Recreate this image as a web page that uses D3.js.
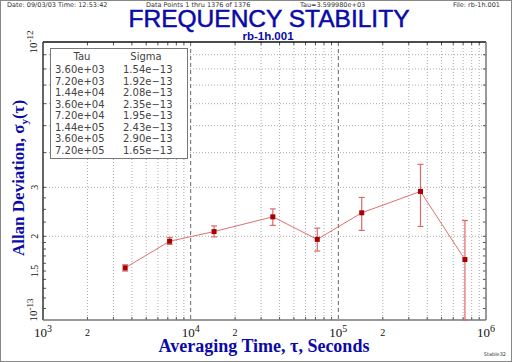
<!DOCTYPE html>
<html>
<head>
<meta charset="utf-8">
<script src="https://cdn.jsdelivr.net/npm/d3@7"></script>
<style>
  body { margin: 0; background: #fff; }
  svg { display: block; }
</style>
</head>
<body>
<svg id="chart" width="512" height="362"></svg>
<script>
// data
const tau = [3600, 7200, 14400, 36000, 72000, 144000, 360000, 720000];
const sigma = [1.54e-13, 1.92e-13, 2.08e-13, 2.35e-13, 1.95e-13, 2.43e-13, 2.90e-13, 1.65e-13];
const errLo = [1.50e-13, 1.87e-13, 1.99e-13, 2.19e-13, 1.77e-13, 2.10e-13, 2.17e-13, 1.00e-13];
const errHi = [1.58e-13, 1.98e-13, 2.18e-13, 2.51e-13, 2.14e-13, 2.76e-13, 3.63e-13, 2.28e-13];
const tauText = ['3.60e+03', '7.20e+03', '1.44e+04', '3.60e+04', '7.20e+04', '1.44e+05', '3.60e+05', '7.20e+05'];
const sigmaText = ['1.54e-13', '1.92e-13', '2.08e-13', '2.35e-13', '1.95e-13', '2.43e-13', '2.90e-13', '1.65e-13'];
const xDecades = [1e3, 1e4, 1e5, 1e6];
const yMinorLabels = [1.5e-13, 2e-13, 3e-13];

const width = 512, height = 362;
const margin = {top: 42, right: 26, bottom: 42, left: 43};
const blue = '#0a0aa8';

const svg = d3.select('#chart');
svg.append('rect').attr('x', 0.5).attr('y', 0.5).attr('width', width - 1).attr('height', height - 1)
    .attr('fill', '#fff').attr('stroke', '#888');

const x = d3.scaleLog().domain([1e3, 1e6]).range([margin.left, width - margin.right]);
const y = d3.scaleLog().domain([1e-13, 1e-12]).range([height - margin.bottom, margin.top]);
const [x0, x1] = x.range();
const [y0, y1] = y.range();

// tick positions
const xMinor = [];
[1e3, 1e4, 1e5].forEach(d => { for (let k = 2; k <= 9; k++) xMinor.push(d * k); });
const yGrid = [];
for (let k = 2; k <= 9; k++) yGrid.push(k * 1e-13);
const yTicks = [];
for (let k = 11; k <= 19; k++) yTicks.push(k * 1e-14);
[2.25e-13, 2.5e-13, 2.75e-13].forEach(v => yTicks.push(v));

// grid
const grid = svg.append('g');
grid.selectAll('.gx').data(xMinor).enter().append('line')
    .attr('x1', d => x(d)).attr('x2', d => x(d)).attr('y1', y1).attr('y2', y0)
    .attr('stroke', '#aaa').attr('stroke-dasharray', '1,2');
grid.selectAll('.gy').data(yGrid).enter().append('line')
    .attr('x1', x0).attr('x2', x1).attr('y1', d => y(d)).attr('y2', d => y(d))
    .attr('stroke', '#aaa').attr('stroke-dasharray', '1,2');
grid.selectAll('.gd').data([1e4, 1e5]).enter().append('line')
    .attr('x1', d => x(d)).attr('x2', d => x(d)).attr('y1', y1).attr('y2', y0)
    .attr('stroke', '#666').attr('stroke-dasharray', '4,3');

// inner ticks on all four sides
const ticks = svg.append('g').attr('stroke', '#555');
ticks.selectAll('.tb').data(xMinor).enter().append('line')
    .attr('x1', d => x(d)).attr('x2', d => x(d)).attr('y1', y0).attr('y2', y0 - 3);
ticks.selectAll('.tt').data(xMinor).enter().append('line')
    .attr('x1', d => x(d)).attr('x2', d => x(d)).attr('y1', y1).attr('y2', y1 + 3);
ticks.selectAll('.tl').data(yGrid.concat(yTicks)).enter().append('line')
    .attr('x1', x0).attr('x2', x0 + 3).attr('y1', d => y(d)).attr('y2', d => y(d));
ticks.selectAll('.tr').data(yGrid.concat(yTicks)).enter().append('line')
    .attr('x1', x1).attr('x2', x1 - 3).attr('y1', d => y(d)).attr('y2', d => y(d));

// frame
svg.append('line').attr('x1', x0).attr('x2', x1).attr('y1', y1).attr('y2', y1).attr('stroke', '#111').attr('stroke-width', 1.5);
svg.append('line').attr('x1', x0).attr('x2', x0).attr('y1', y1).attr('y2', y0).attr('stroke', '#333').attr('stroke-width', 1.5);
svg.append('line').attr('x1', x1).attr('x2', x1).attr('y1', y1).attr('y2', y0).attr('stroke', '#777').attr('stroke-width', 1.5);
svg.append('line').attr('x1', x0).attr('x2', x1).attr('y1', y0).attr('y2', y0).attr('stroke', '#777').attr('stroke-width', 1.5);

// x tick labels
const serif = 'Liberation Serif, Times New Roman, serif';
const xl = svg.append('g').attr('font-family', serif).attr('fill', '#111');
xDecades.forEach(d => {
    const t = xl.append('text').attr('x', x(d)).attr('y', y0 + 17).attr('text-anchor', 'middle').attr('font-size', 13);
    t.append('tspan').text('10');
    t.append('tspan').attr('dy', -5).attr('font-size', 10).text(Math.round(Math.log10(d)));
});
[2e3, 2e4, 2e5].forEach(d => {
    xl.append('text').attr('x', x(d)).attr('y', y0 + 16).attr('text-anchor', 'middle').attr('font-size', 10).text('2');
});

// y tick labels (rotated)
const yl = svg.append('g').attr('font-family', serif).attr('fill', '#111');
[[1e-12, '-12', 0], [1e-13, '-13', -10]].forEach(([v, e, off]) => {
    const t = yl.append('text').attr('transform', `translate(37,${y(v) + off}) rotate(-90)`)
        .attr('text-anchor', 'middle').attr('font-size', 11);
    t.append('tspan').text('10');
    t.append('tspan').attr('dy', -4).attr('font-size', 9).text(e);
});
yMinorLabels.forEach(v => {
    yl.append('text').attr('transform', `translate(38,${y(v)}) rotate(-90)`)
        .attr('text-anchor', 'middle').attr('font-size', 10).text(d3.format('.2~f')(v * 1e13));
});

// data
const idx = d3.range(tau.length);
const line = d3.line().x(i => x(tau[i])).y(i => y(sigma[i]));
svg.append('path').attr('d', line(idx)).attr('fill', 'none').attr('stroke', '#e07070').attr('stroke-width', 1);
const eb = svg.append('g').attr('stroke', '#d86a6a').attr('stroke-width', 1.2);
eb.selectAll('.v').data(idx).enter().append('line')
    .attr('x1', i => x(tau[i])).attr('x2', i => x(tau[i]))
    .attr('y1', i => y(errLo[i])).attr('y2', i => y(errHi[i]));
eb.selectAll('.ch').data(idx).enter().append('line')
    .attr('x1', i => x(tau[i]) - 3).attr('x2', i => x(tau[i]) + 3)
    .attr('y1', i => y(errHi[i])).attr('y2', i => y(errHi[i]));
eb.selectAll('.cl').data(idx).enter().append('line')
    .attr('x1', i => x(tau[i]) - 3).attr('x2', i => x(tau[i]) + 3)
    .attr('y1', i => y(errLo[i])).attr('y2', i => y(errLo[i]));
svg.selectAll('.pt').data(idx).enter().append('rect')
    .attr('x', i => x(tau[i]) - 2.5).attr('y', i => y(sigma[i]) - 2.5)
    .attr('width', 5).attr('height', 5).attr('fill', '#a80000');

// legend table
const lg = svg.append('g').attr('font-family', 'DejaVu Sans, sans-serif').attr('font-size', 10).attr('fill', '#444');
lg.append('rect').attr('x', 50.5).attr('y', 48.5).attr('width', 137).attr('height', 110)
    .attr('fill', '#fff').attr('stroke', '#777');
lg.append('text').attr('x', 82).attr('y', 60).attr('text-anchor', 'middle').text('Tau');
lg.append('text').attr('x', 146).attr('y', 60).attr('text-anchor', 'middle').text('Sigma');
tauText.forEach((s, i) => {
    lg.append('text').attr('x', 55).attr('y', 73 + i * 11.5).text(s.replace('-', '\u2212'));
    lg.append('text').attr('x', 123).attr('y', 73 + i * 11.5).text(sigmaText[i].replace('-', '\u2212'));
});

// titles
svg.append('text').attr('x', 269).attr('y', 27).attr('text-anchor', 'middle')
    .attr('font-family', 'Liberation Sans, Arial, sans-serif').attr('font-size', 24)
    .attr('textLength', 281).attr('lengthAdjust', 'spacingAndGlyphs')
    .attr('fill', blue).attr('stroke', blue).attr('stroke-width', 0.5).text('FREQUENCY STABILITY');
svg.append('text').attr('x', 268).attr('y', 39.5).attr('text-anchor', 'middle')
    .attr('font-family', 'Liberation Sans, Arial, sans-serif').attr('font-size', 11.5).attr('font-weight', 'bold')
    .attr('fill', blue).text('rb-1h.001');

const hdr = svg.append('g').attr('font-family', 'DejaVu Sans, sans-serif').attr('font-size', 6.5).attr('fill', '#333');
hdr.append('text').attr('x', 7).attr('y', 6.5).text('Date: 09/03/03  Time: 12:53:42');
hdr.append('text').attr('x', 146).attr('y', 6.5).text('Data Points 1 thru 1376 of 1376');
hdr.append('text').attr('x', 300).attr('y', 6.5).text('Tau=3.599980e+03');
hdr.append('text').attr('x', 500).attr('y', 6.5).attr('text-anchor', 'end').text('File: rb-1h.001');

// axis titles
svg.append('text').attr('x', 264).attr('y', 352).attr('text-anchor', 'middle')
    .attr('font-family', serif).attr('font-size', 18).attr('font-weight', 'bold').attr('fill', blue)
    .text('Averaging Time, \u03c4, Seconds');
const yt = svg.append('text').attr('transform', 'translate(24,178) rotate(-90)').attr('text-anchor', 'middle')
    .attr('font-family', serif).attr('font-size', 17).attr('font-weight', 'bold').attr('fill', blue);
yt.append('tspan').text('Allan Deviation, \u03c3');
yt.append('tspan').attr('dy', 4).attr('font-size', 11).text('y');
yt.append('tspan').attr('dy', -4).text('(\u03c4)');

svg.append('text').attr('x', 506).attr('y', 356).attr('text-anchor', 'end')
    .attr('font-family', 'DejaVu Sans, sans-serif').attr('font-size', 5).attr('fill', '#333').text('Stable32');
</script>
</body>
</html>
